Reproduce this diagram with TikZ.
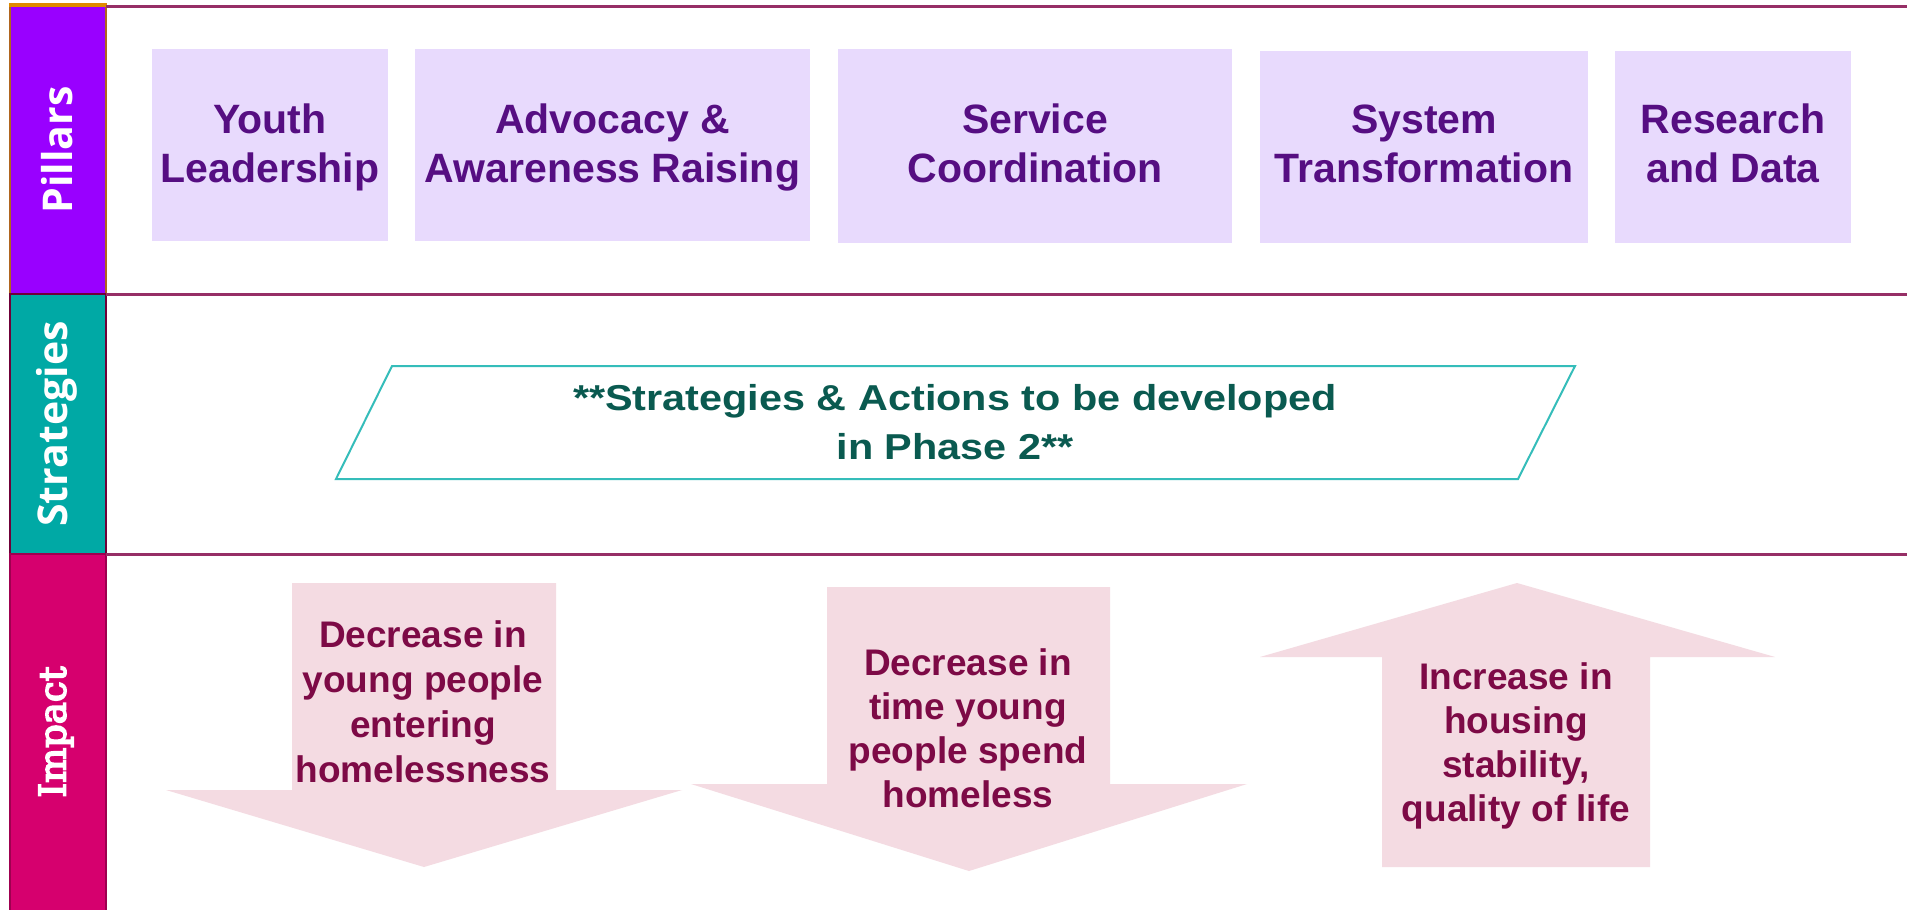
\documentclass[tikz,border=0pt]{standalone}
\usepackage{fontspec}
\setmainfont{Liberation Sans}
\newfontfamily\labfont{Open Sans}
\newfontfamily\impfont[FakeBold=4.5]{DejaVu Serif}
\newfontfamily\stratfont[FakeStretch=1.15]{Liberation Sans}
\definecolor{pilfill}{HTML}{9900FF}
\definecolor{pilborder}{HTML}{B0651E}
\definecolor{pilstrip}{HTML}{E08A00}
\definecolor{strfill}{HTML}{00A9A5}
\definecolor{impfill}{HTML}{D6006E}
\definecolor{impborder}{HTML}{9E0050}
\definecolor{rule}{HTML}{962F66}
\definecolor{boxfill}{HTML}{E8DAFD}
\definecolor{boxtext}{HTML}{560E82}
\definecolor{strline}{HTML}{35BDBA}
\definecolor{strtext}{HTML}{0A5A50}
\definecolor{arrfill}{HTML}{F4DBE2}
\definecolor{arrtext}{HTML}{7D0A46}
\tikzset{
  pillarbox/.style={fill=boxfill, inner sep=0pt},
  pillartxt/.style={text=boxtext, align=center, inner sep=0pt,
    font=\bfseries\fontsize{41}{49}\selectfont},
  imptxt/.style={text=arrtext, align=center, inner sep=0pt,
    font=\bfseries\fontsize{37}{45}\selectfont},
  sidelab/.style={rotate=90, text=white, inner sep=0pt,
    font=\labfont\bfseries\fontsize{41}{49}\selectfont},
  bandrule/.style={draw=rule, line width=3pt},
  arrowshape/.style={fill=arrfill}
}
\begin{document}
\begin{tikzpicture}[x=1pt,y=-1pt]
\useasboundingbox (0,0) rectangle (1907,910);
\fill[white] (0,0) rectangle (1907,910);

% left column cells
\draw[fill=pilfill, draw=pilborder, line width=2pt] (10,5) rectangle (106,294);
\fill[pilstrip] (9,3) rectangle (107,7);
\draw[fill=strfill, draw=impborder!70!black, line width=1.5pt] (10,294) rectangle (106,554);
\draw[fill=impfill, draw=impborder, line width=1.5pt] (10,554) rectangle (106,912);

\node[sidelab] (lpil) at (57,150) {Pillars};
\node[sidelab] (lstr) at (57,424) {Strategies};
\node[sidelab, font=\impfont\fontsize{37}{44}\selectfont] (limp) at (56,732) {Impact};

% band rules
\coordinate (r1a) at (106,6);   \coordinate (r1b) at (1907,6);
\coordinate (r2a) at (106,294); \coordinate (r2b) at (1907,294);
\coordinate (r3a) at (106,554); \coordinate (r3b) at (1907,554);
\draw[bandrule] (r1a) -- (r1b);
\draw[bandrule] (r2a) -- (r2b);
\draw[bandrule] (r3a) -- (r3b);

% pillars
\node[pillarbox, minimum width=236pt, minimum height=192pt] (p1) at (270,145) {};
\node[pillarbox, minimum width=395pt, minimum height=192pt] (p2) at (612.5,145) {};
\node[pillarbox, minimum width=394pt, minimum height=194pt] (p3) at (1035,146) {};
\node[pillarbox, minimum width=328pt, minimum height=192pt] (p4) at (1424,147) {};
\node[pillarbox, minimum width=236pt, minimum height=192pt] (p5) at (1733,147) {};
\node[pillartxt] (t1) at (270,147.5) {Youth\\Leadership};
\node[pillartxt] (t2) at (612.5,147.5) {Advocacy \&\\Awareness Raising};
\node[pillartxt] (t3) at (1035,143.5) {Service\\Coordination};
\node[pillartxt] (t4) at (1424,143.5) {System\\Transformation};
\node[pillartxt] (t5) at (1733,143.5) {Research\\and Data};

% strategies parallelogram
\coordinate (s1) at (392,366);
\coordinate (s2) at (1575,366);
\coordinate (s3) at (1518,479);
\coordinate (s4) at (336,479);
\draw[strline, line width=2pt] (s1) -- (s2) -- (s3) -- (s4) -- cycle;
\node[text=strtext, align=center, inner sep=0pt,
      font=\stratfont\bfseries\fontsize{36}{49}\selectfont] (stxt) at (955,422)
  {**Strategies \& Actions to be developed\\in Phase 2**};

% impact arrows
\fill[arrowshape] (292,583) -- (556,583) -- (556,790) -- (682,790) -- (424,867)
  -- (166,790) -- (292,790) -- cycle;
\fill[arrowshape] (827,587) -- (1110,587) -- (1110,784) -- (1247,784) -- (969,871)
  -- (691,784) -- (827,784) -- cycle;
\fill[arrowshape] (1517,583) -- (1775,657) -- (1650,657) -- (1650,867) -- (1382,867)
  -- (1382,657) -- (1260,657) -- cycle;

\node[imptxt] (i1) at (423,702) {Decrease in\\young people\\entering\\homelessness};
\node[imptxt, font=\bfseries\fontsize{37}{44}\selectfont] (i2) at (968,728.5)
  {Decrease in\\time young\\people spend\\homeless};
\node[imptxt, font=\bfseries\fontsize{37}{44}\selectfont] (i3) at (1516,746)
  {Increase in\\housing\\stability,\\quality of life};
\end{tikzpicture}
\end{document}
